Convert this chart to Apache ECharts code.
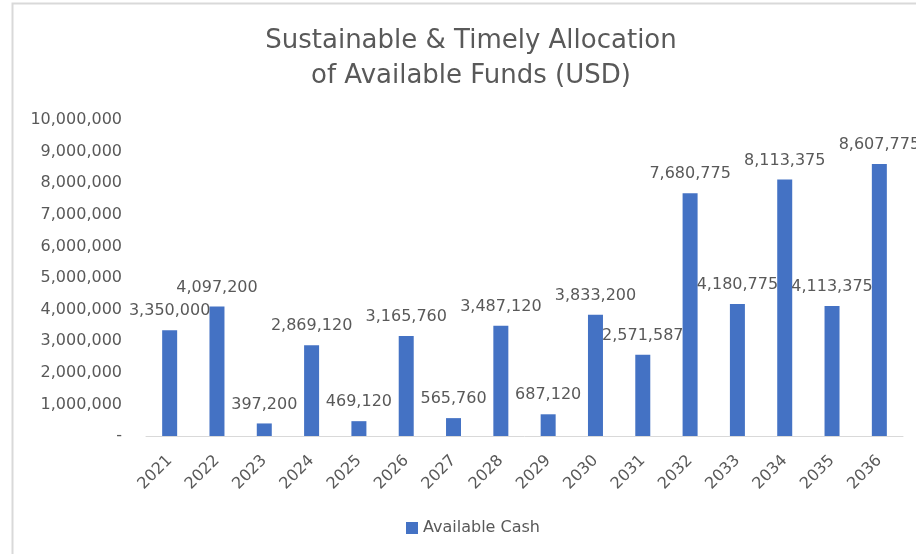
<!DOCTYPE html>
<html>
<head>
<meta charset="utf-8">
<script src="https://cdn.jsdelivr.net/npm/echarts@6/dist/echarts.min.js"></script>
<style>
  html, body { margin: 0; padding: 0; background: #fff; }
  #main { width: 916px; height: 554px; }
</style>
</head>
<body>
<div id="main"></div>
<script>
// 年份
var years = ['2021','2022','2023','2024','2025','2026','2027','2028','2029','2030','2031','2032','2033','2034','2035','2036'];
// 可用现金
var availableCash = [3350000, 4097200, 397200, 2869120, 469120, 3165760, 565760, 3487120, 687120, 3833200, 2571587, 7680775, 4180775, 8113375, 4113375, 8607775];
var yMin = 0, yMax = 10000000, yStep = 1000000;

function fmtNum(v){
	if (v == 0) return '-';
	return String(v).replace(/\B(?=(\d{3})+(?!\d))/g, ',');
}

var myChart = echarts.init(document.getElementById('main'));
var txtColor = '#595959';
var option = {
	animation: false,
	textStyle: { fontFamily: 'DejaVu Sans' },
	title: {
		text: 'Sustainable & Timely Allocation\nof Available Funds (USD)',
		left: 466,
		textAlign: 'center',
		top: 19,
		textStyle: {
			fontSize: 26,
			fontWeight: 'normal',
			color: txtColor,
			lineHeight: 35,
			fontFamily: 'DejaVu Sans'
		}
	},
	graphic: [{
		type: 'rect',
		shape: { x: 12.5, y: 3.5, width: 1000, height: 1000 },
		style: { fill: 'none', stroke: '#d9d9d9', lineWidth: 2 },
		silent: true
	}],
	legend: {
		data: ['Available Cash'],
		bottom: 13,
		left: 401,
		itemWidth: 12,
		itemHeight: 12,
		itemGap: 4,
		icon: 'rect',
		textStyle: { fontSize: 16, color: txtColor }
	},
	grid: {
		left: 146,
		right: 13,
		top: 120,
		bottom: 118,
		containLabel: false
	},
	xAxis: {
		type: 'category',
		data: years,
		axisLine: { lineStyle: { color: '#d9d9d9', width: 1 } },
		axisTick: { show: false },
		axisLabel: {
			rotate: 45,
			interval: 0,
			fontSize: 16,
			color: txtColor,
			margin: 22
		}
	},
	yAxis: {
		type: 'value',
		min: yMin,
		max: yMax,
		interval: yStep,
		splitLine: { show: false },
		axisLine: { show: false },
		axisTick: { show: false },
		axisLabel: {
			fontSize: 16,
			color: txtColor,
			margin: 24,
			formatter: function(v){ return fmtNum(v); }
		}
	},
	series: [{
		name: 'Available Cash',
		type: 'bar',
		data: availableCash,
		barWidth: 15,
		itemStyle: { color: '#4472C4' },
		label: {
			show: true,
			position: 'top',
			distance: 11,
			fontSize: 16,
			color: txtColor,
			formatter: function(p){ return fmtNum(p.value); }
		}
	}]
};
myChart.setOption(option);
</script>
</body>
</html>
